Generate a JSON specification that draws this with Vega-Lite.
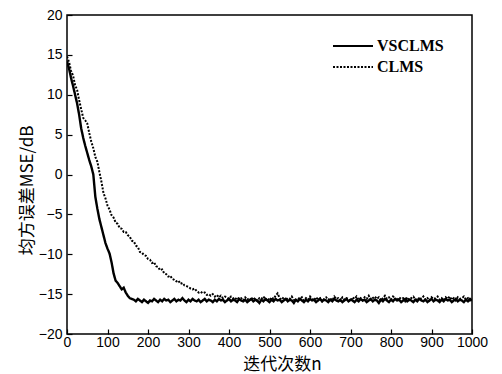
{
  "$schema": "https://vega.github.io/schema/vega-lite/v6.json",
  "width": 405,
  "height": 319,
  "autosize": {"type": "none"},
  "padding": {"left": 67, "top": 15, "right": 30, "bottom": 40},
  "background": "white",
  "config": {
    "view": {"stroke": "black", "strokeWidth": 1.5},
    "axis": {
      "grid": false,
      "domain": false,
      "ticks": true,
      "tickSize": -5,
      "tickColor": "black",
      "tickWidth": 1.2,
      "labelFont": "Liberation Sans",
      "labelFontSize": 14,
      "labelColor": "black",
      "titleColor": "black",
      "titleFont": "Noto Sans CJK SC",
      "titleFontWeight": "normal",
      "titleFontSize": 17
    }
  },
  "datasets": {
    "vs": [
      {"n":0,"v":14.2},{"n":5,"v":13.3},{"n":10,"v":12.1},{"n":15,"v":11.1},{"n":20,"v":10.0},{"n":25,"v":8.9},{"n":30,"v":7.5},{"n":35,"v":5.8},{"n":40,"v":4.6},{"n":45,"v":3.6},{"n":50,"v":2.7},{"n":55,"v":1.8},{"n":60,"v":1.0},{"n":65,"v":0.0},{"n":70,"v":-2.8},{"n":75,"v":-4.3},{"n":80,"v":-5.6},{"n":85,"v":-6.6},{"n":90,"v":-7.6},{"n":95,"v":-8.6},{"n":100,"v":-9.3},{"n":105,"v":-9.9},{"n":110,"v":-11.0},{"n":115,"v":-12.4},{"n":120,"v":-13.3},{"n":125,"v":-13.6},{"n":130,"v":-14.0},{"n":135,"v":-14.4},{"n":140,"v":-14.2},{"n":145,"v":-14.8},{"n":150,"v":-15.2},{"n":155,"v":-15.5},{"n":160,"v":-15.6},
      {"n":165,"v":-15.7},{"n":170,"v":-15.9},{"n":175,"v":-15.6},{"n":180,"v":-15.8},{"n":185,"v":-16.0},{"n":190,"v":-15.7},{"n":195,"v":-15.9},{"n":200,"v":-16.1},{"n":205,"v":-15.8},{"n":210,"v":-15.9},{"n":215,"v":-15.6},{"n":220,"v":-15.8},{"n":225,"v":-16.0},{"n":230,"v":-15.7},{"n":235,"v":-15.9},{"n":240,"v":-15.6},{"n":245,"v":-15.8},{"n":250,"v":-15.7},{"n":255,"v":-16.0},{"n":260,"v":-15.8},{"n":265,"v":-15.6},{"n":270,"v":-15.9},{"n":275,"v":-15.7},{"n":280,"v":-15.8},{"n":285,"v":-15.5},{"n":290,"v":-15.8},{"n":295,"v":-16.0},{"n":300,"v":-15.7},{"n":305,"v":-15.9},{"n":310,"v":-15.6},{"n":315,"v":-15.8},{"n":320,"v":-15.9},{"n":325,"v":-15.7},{"n":330,"v":-16.0},{"n":335,"v":-15.8},{"n":340,"v":-15.6},{"n":345,"v":-15.9},{"n":350,"v":-15.7},{"n":355,"v":-15.8},{"n":360,"v":-16.0},{"n":365,"v":-15.7},{"n":370,"v":-15.9},{"n":375,"v":-15.6},{"n":380,"v":-15.8},{"n":385,"v":-15.7},{"n":390,"v":-16.0},{"n":395,"v":-15.8},{"n":400,"v":-15.6},{"n":405,"v":-15.9},{"n":410,"v":-15.7},{"n":415,"v":-15.8},{"n":420,"v":-16.0},{"n":425,"v":-15.6},{"n":430,"v":-15.8},{"n":435,"v":-15.9},{"n":440,"v":-15.7},{"n":445,"v":-16.0},{"n":450,"v":-15.8},{"n":455,"v":-15.6},{"n":460,"v":-15.9},{"n":465,"v":-15.7},{"n":470,"v":-15.8},{"n":475,"v":-16.1},{"n":480,"v":-15.7},{"n":485,"v":-15.9},{"n":490,"v":-15.6},{"n":495,"v":-15.8},{"n":500,"v":-16.0},{"n":505,"v":-15.7},{"n":510,"v":-15.9},{"n":515,"v":-15.6},{"n":520,"v":-15.8},{"n":525,"v":-15.7},{"n":530,"v":-16.0},{"n":535,"v":-15.8},{"n":540,"v":-15.6},{"n":545,"v":-15.9},{"n":550,"v":-15.7},{"n":555,"v":-15.8},{"n":560,"v":-16.1},{"n":565,"v":-15.7},{"n":570,"v":-15.9},{"n":575,"v":-15.6},{"n":580,"v":-15.8},{"n":585,"v":-16.0},{"n":590,"v":-15.7},{"n":595,"v":-15.9},{"n":600,"v":-15.6},{"n":605,"v":-15.8},{"n":610,"v":-15.7},{"n":615,"v":-16.0},{"n":620,"v":-15.8},{"n":625,"v":-15.6},{"n":630,"v":-15.9},{"n":635,"v":-15.7},{"n":640,"v":-15.8},{"n":645,"v":-16.0},{"n":650,"v":-15.7},{"n":655,"v":-15.9},{"n":660,"v":-15.6},{"n":665,"v":-15.8},{"n":670,"v":-15.9},{"n":675,"v":-15.7},{"n":680,"v":-16.0},{"n":685,"v":-15.8},{"n":690,"v":-15.6},{"n":695,"v":-15.9},{"n":700,"v":-15.7},{"n":705,"v":-15.8},{"n":710,"v":-16.0},{"n":715,"v":-15.7},{"n":720,"v":-15.9},{"n":725,"v":-15.6},{"n":730,"v":-15.8},{"n":735,"v":-15.7},{"n":740,"v":-16.0},{"n":745,"v":-15.8},{"n":750,"v":-15.6},{"n":755,"v":-15.9},{"n":760,"v":-15.7},{"n":765,"v":-15.8},{"n":770,"v":-16.1},{"n":775,"v":-15.7},{"n":780,"v":-15.9},{"n":785,"v":-15.6},{"n":790,"v":-15.8},{"n":795,"v":-16.0},{"n":800,"v":-15.7},{"n":805,"v":-15.9},{"n":810,"v":-15.6},{"n":815,"v":-15.8},{"n":820,"v":-15.7},{"n":825,"v":-16.0},{"n":830,"v":-15.8},{"n":835,"v":-15.6},{"n":840,"v":-15.9},{"n":845,"v":-15.7},{"n":850,"v":-15.8},{"n":855,"v":-16.0},{"n":860,"v":-15.7},{"n":865,"v":-15.9},{"n":870,"v":-15.6},{"n":875,"v":-15.8},{"n":880,"v":-15.9},{"n":885,"v":-15.7},{"n":890,"v":-16.0},{"n":895,"v":-15.8},{"n":900,"v":-15.6},{"n":905,"v":-15.9},{"n":910,"v":-15.7},{"n":915,"v":-15.8},{"n":920,"v":-16.0},{"n":925,"v":-15.7},{"n":930,"v":-15.9},{"n":935,"v":-15.6},{"n":940,"v":-15.8},{"n":945,"v":-15.7},{"n":950,"v":-16.0},{"n":955,"v":-15.8},{"n":960,"v":-15.6},{"n":965,"v":-15.9},{"n":970,"v":-15.7},{"n":975,"v":-15.8},{"n":980,"v":-16.0},{"n":985,"v":-15.7},{"n":990,"v":-15.9},{"n":995,"v":-15.6},{"n":1000,"v":-15.8}
    ],
    "cl": [
      {"n":0,"v":14.8},{"n":5,"v":14.1},{"n":10,"v":13.0},{"n":15,"v":12.4},{"n":20,"v":11.2},{"n":25,"v":10.6},{"n":30,"v":9.3},{"n":35,"v":8.2},{"n":40,"v":7.1},{"n":45,"v":6.8},{"n":50,"v":6.4},{"n":55,"v":5.2},{"n":60,"v":4.1},{"n":65,"v":3.3},{"n":70,"v":2.2},{"n":75,"v":1.6},{"n":80,"v":0.3},{"n":85,"v":-0.9},{"n":90,"v":-2.3},{"n":95,"v":-3.0},{"n":100,"v":-3.9},{"n":105,"v":-4.4},{"n":110,"v":-5.1},{"n":115,"v":-5.4},{"n":120,"v":-6.0},{"n":125,"v":-6.2},{"n":130,"v":-6.7},{"n":135,"v":-6.8},{"n":140,"v":-7.2},{"n":145,"v":-7.2},{"n":150,"v":-7.6},{"n":155,"v":-7.8},{"n":160,"v":-8.3},{"n":165,"v":-8.4},{"n":170,"v":-8.9},{"n":175,"v":-9.1},{"n":180,"v":-9.7},{"n":185,"v":-9.8},{"n":190,"v":-10.1},{"n":195,"v":-10.2},
      {"n":200,"v":-10.6},{"n":205,"v":-10.7},{"n":210,"v":-11.1},{"n":215,"v":-11.0},{"n":220,"v":-11.5},{"n":225,"v":-11.6},{"n":230,"v":-12.0},{"n":235,"v":-11.9},{"n":240,"v":-12.4},{"n":245,"v":-12.5},{"n":250,"v":-12.8},{"n":255,"v":-12.7},{"n":260,"v":-13.1},{"n":265,"v":-13.2},{"n":270,"v":-13.4},{"n":275,"v":-13.3},{"n":280,"v":-13.7},{"n":285,"v":-13.6},{"n":290,"v":-13.9},{"n":295,"v":-14.0},{"n":300,"v":-14.1},{"n":305,"v":-14.3},{"n":310,"v":-14.4},{"n":315,"v":-14.3},{"n":320,"v":-14.6},{"n":325,"v":-14.8},{"n":330,"v":-14.7},{"n":335,"v":-14.9},{"n":340,"v":-14.8},{"n":345,"v":-15.1},{"n":350,"v":-15.0},{"n":355,"v":-15.2},{"n":360,"v":-15.0},{"n":365,"v":-15.3},{"n":370,"v":-15.1},{"n":375,"v":-15.4},{"n":380,"v":-15.2},{"n":385,"v":-15.5},{"n":390,"v":-15.3},{"n":395,"v":-15.4},{"n":400,"v":-15.6},{"n":405,"v":-15.3},{"n":410,"v":-15.5},{"n":415,"v":-15.7},{"n":420,"v":-15.4},{"n":425,"v":-15.6},{"n":430,"v":-15.5},{"n":435,"v":-15.8},{"n":440,"v":-15.4},{"n":445,"v":-15.7},{"n":450,"v":-15.5},
      {"n":455,"v":-15.8},{"n":460,"v":-15.4},{"n":465,"v":-15.7},{"n":470,"v":-15.9},{"n":475,"v":-15.5},{"n":480,"v":-15.6},{"n":485,"v":-15.3},{"n":490,"v":-15.7},{"n":495,"v":-15.5},{"n":500,"v":-15.8},{"n":505,"v":-15.4},{"n":510,"v":-15.6},{"n":515,"v":-15.2},{"n":520,"v":-14.9},{"n":525,"v":-15.5},{"n":530,"v":-15.7},{"n":535,"v":-15.4},{"n":540,"v":-15.8},{"n":545,"v":-15.5},{"n":550,"v":-15.6},{"n":555,"v":-15.3},{"n":560,"v":-15.7},{"n":565,"v":-15.9},{"n":570,"v":-15.5},{"n":575,"v":-15.6},{"n":580,"v":-15.4},{"n":585,"v":-15.8},{"n":590,"v":-15.5},{"n":595,"v":-15.7},{"n":600,"v":-15.3},{"n":605,"v":-15.6},{"n":610,"v":-15.8},{"n":615,"v":-15.4},{"n":620,"v":-15.7},{"n":625,"v":-15.5},{"n":630,"v":-15.9},{"n":635,"v":-15.6},{"n":640,"v":-15.4},{"n":645,"v":-15.7},{"n":650,"v":-15.5},{"n":655,"v":-15.8},{"n":660,"v":-15.3},{"n":665,"v":-15.6},{"n":670,"v":-15.5},{"n":675,"v":-15.8},{"n":680,"v":-15.4},{"n":685,"v":-15.7},{"n":690,"v":-15.5},{"n":695,"v":-15.6},{"n":700,"v":-15.9},{"n":705,"v":-15.4},{"n":710,"v":-15.6},{"n":715,"v":-15.3},{"n":720,"v":-15.7},{"n":725,"v":-15.5},{"n":730,"v":-15.8},{"n":735,"v":-15.4},{"n":740,"v":-15.6},{"n":745,"v":-15.2},{"n":750,"v":-15.7},{"n":755,"v":-15.5},{"n":760,"v":-15.3},{"n":765,"v":-15.6},{"n":770,"v":-15.4},{"n":775,"v":-15.8},{"n":780,"v":-15.5},{"n":785,"v":-15.2},{"n":790,"v":-15.6},{"n":795,"v":-15.4},{"n":800,"v":-15.7},{"n":805,"v":-15.3},{"n":810,"v":-15.5},{"n":815,"v":-15.8},{"n":820,"v":-15.4},{"n":825,"v":-15.6},{"n":830,"v":-15.5},{"n":835,"v":-15.9},{"n":840,"v":-15.4},{"n":845,"v":-15.7},{"n":850,"v":-15.5},{"n":855,"v":-15.3},{"n":860,"v":-15.6},{"n":865,"v":-15.8},{"n":870,"v":-15.4},{"n":875,"v":-15.6},{"n":880,"v":-15.3},{"n":885,"v":-15.7},{"n":890,"v":-15.5},{"n":895,"v":-15.8},{"n":900,"v":-15.4},{"n":905,"v":-15.6},{"n":910,"v":-15.5},{"n":915,"v":-15.3},{"n":920,"v":-15.7},{"n":925,"v":-15.5},{"n":930,"v":-15.8},{"n":935,"v":-15.4},{"n":940,"v":-15.6},{"n":945,"v":-15.3},{"n":950,"v":-15.7},{"n":955,"v":-15.5},{"n":960,"v":-15.8},{"n":965,"v":-15.4},{"n":970,"v":-15.6},{"n":975,"v":-15.5},{"n":980,"v":-15.3},{"n":985,"v":-15.7},{"n":990,"v":-15.5},{"n":995,"v":-15.8},{"n":1000,"v":-15.6}
    ]
  },
  "encoding": {
    "x": {
      "field": "n", "type": "quantitative",
      "scale": {"domain": [0, 1000], "nice": false},
      "axis": {"values": [0,100,200,300,400,500,600,700,800,900,1000], "format": "d", "title": "迭代次数n", "titleFontSize": 17, "titleX": 215, "labelPadding": 6, "titlePadding": 7, "labelFlush": false}
    },
    "y": {
      "field": "v", "type": "quantitative",
      "scale": {"domain": [-20, 20], "nice": false},
      "axis": {"values": [-20,-15,-10,-5,0,5,10,15,20], "title": "均方误差MSE/dB", "titleY": 175, "labelPadding": 10, "titlePadding": 2}
    }
  },
  "layer": [
    {
      "data": {"name": "cl"},
      "mark": {"type": "line", "color": "black", "strokeWidth": 2, "clip": true},
      "encoding": {"strokeDash": {"datum": "CLMS"}}
    },
    {
      "data": {"name": "vs"},
      "mark": {"type": "line", "color": "black", "strokeWidth": 2.4, "clip": true},
      "encoding": {
        "strokeDash": {
          "datum": "VSCLMS",
          "scale": {"domain": ["VSCLMS", "CLMS"], "range": [[1, 0], [2, 1.5]]},
          "legend": {
            "title": null,
            "orient": "none",
            "legendX": 275,
            "legendY": 20,
            "symbolType": "M-2,0H2",
            "symbolSize": 400,
            "symbolFillColor": "transparent",
            "symbolStrokeColor": "black",
            "symbolStrokeWidth": 2,
            "labelFont": "Liberation Serif",
            "labelFontWeight": "bold",
            "labelFontSize": 16,
            "labelColor": "black",
            "labelOffset": 13,
            "rowPadding": 2
          }
        }
      }
    }
  ]
}
